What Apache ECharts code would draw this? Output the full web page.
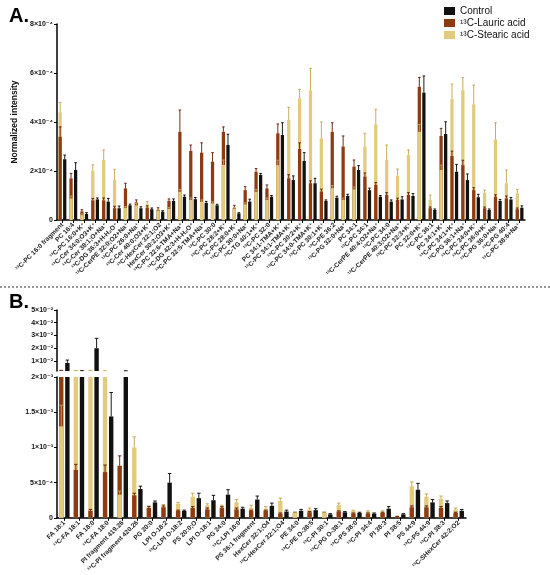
<!DOCTYPE html>
<html><head><meta charset="utf-8">
<script src="https://cdn.jsdelivr.net/npm/echarts@6/dist/echarts.min.js"></script>
<style>html,body{margin:0;padding:0;background:#fff}#c{width:550px;height:575px}</style>
</head><body><div id="c"></div>
<script>
const FONT = '"Liberation Sans", "DejaVu Sans", Arial, sans-serif';

// ---- Panel A (values in units of 10^-4) ----
const topCategories = ['¹³C-PC 16:0 fragment','PC 16:4','¹³C-PC 16:0+K⁺','¹³C-Cer 34:0;O3+K⁺','¹³C-Cer 38:1;O+Na⁺','¹³C-DG 36:3+H-H₂O⁺','¹³C-CerPE 32:0;O2+Na⁺','¹³C-PC 26:0+Na⁺','¹³C-Cer 40:0;O3+K⁺','¹³C-HexCer 32:1;O2','HexCer 30:2;O3+K⁺','¹³C-PC 32:6-TMA+Na⁺','¹³C-DG 42:3+H-H₂O⁺','¹³C-PC 32:5-TMA+Na⁺','¹³C-PC 30:0','¹³C-PC 28:2+K⁺','¹³C-PC 28:0+K⁺','¹³C-PC 30:0+Na⁺','¹³C-TG 40:1+K⁺','¹³C-PC 32:0','PC 34:1-TMA+K⁺','¹³C-PC 34:1-TMA+K⁺','¹³C-PC 30:2+K⁺','¹³C-PC 34:0-TMA+K⁺','¹³C-PC 30:1+K⁺','¹³C-PE 36:2','¹³C-PG 32:0+Na⁺','PC 34:1','¹³C-PC 34:1','¹³C-CerPE 40:4;O2+Na⁺','¹³C-PC 34:0','¹³C-CerPE 40:3;O2+Na⁺','¹³C-PC 32:3+K⁺','PC 32:0+K⁺','¹³C-PC 36:1','PC 34:1+K⁺','¹³C-PC 34:1+K⁺','¹³C-PG 36:1+Na⁺','¹³C-PC 34:0+K⁺','¹³C-PC 36:0+K⁺','¹³C-PG 36:0+Na⁺','¹³C-PG 40:4','¹³C-PC 38:6+Na⁺'];
const topControl    = [2.48,2.04,0.25,0.84,0.75,0.48,0.60,0.48,0.44,0.34,0.78,0.95,0.85,0.70,0.60,3.06,0.27,0.75,1.84,0.95,3.47,1.63,2.41,1.50,0.78,0.91,0.98,2.04,1.22,0.95,0.75,0.84,0.98,5.20,0.41,3.51,1.97,1.63,0.93,0.41,0.78,0.84,0.50];
const topControlErr = [0.17,0.30,0.05,0.06,0.13,0.09,0.05,0.06,0.05,0.04,0.08,0.07,0.07,0.06,0.04,0.44,0.03,0.10,0.06,0.05,0.50,0.17,0.34,0.20,0.04,0.06,0.07,0.18,0.08,0.05,0.07,0.11,0.10,0.68,0.04,0.50,0.30,0.25,0.12,0.04,0.06,0.08,0.08];
const topLauric     = [3.40,1.70,0.35,0.80,0.80,0.48,1.29,0.72,0.50,0.41,0.78,3.60,2.82,2.75,2.38,3.60,0.48,1.22,1.97,1.29,3.54,1.70,2.90,1.50,1.16,3.60,3.00,2.18,1.77,1.43,1.02,0.82,1.02,5.44,0.48,3.43,2.61,2.24,1.22,0.48,0.95,0.88,0.44];
const topLauricErr  = [0.40,0.20,0.07,0.08,0.10,0.08,0.21,0.10,0.08,0.09,0.08,0.89,0.24,0.40,0.37,0.20,0.12,0.14,0.13,0.14,0.38,0.15,0.25,0.10,0.10,0.37,0.43,0.27,0.15,0.10,0.10,0.07,0.10,0.38,0.05,0.31,0.20,0.20,0.10,0.05,0.08,0.10,0.05];
const topStearic    = [4.40,0.88,0.20,2.00,2.45,1.63,0.50,0.60,0.64,0.38,0.45,1.15,0.82,0.75,0.68,2.25,0.45,0.64,1.15,0.82,2.24,4.08,4.97,5.30,3.33,1.30,0.82,1.25,3.00,3.90,2.45,1.81,2.65,3.60,0.82,2.04,4.93,5.30,4.72,1.12,3.29,1.50,1.09];
const topStearicErr = [0.40,0.10,0.05,0.25,0.41,0.44,0.05,0.08,0.11,0.06,0.06,0.10,0.08,0.07,0.06,0.20,0.06,0.06,0.10,0.08,0.20,0.52,0.36,0.89,0.67,0.10,0.07,0.10,0.54,0.62,0.61,0.27,0.21,0.30,0.20,0.20,0.62,0.52,0.79,0.10,0.68,0.54,0.16];
const topTicks = [0,2,4,6,8];

// ---- Panel B (values in units of 10^-3) ----
const bottomCategories = ['FA 18:1','¹³C-FA 18:1','FA 18:0','¹³C-FA 18:0','PI fragment 419.26','¹³C-PI fragment 420.26','PG 20:0','LPI O-18:2','¹³C-LPI O-18:2','PS 20:0;O','LPI O-18:1','PG 24:0','¹³C-LPI 18:0','PS 36:1 fragment','HexCer 32:1;O4','¹³C-HexCer 32:1;O4','PE 34:0','¹³C-PE O-38:5','¹³C-PI 30:1','¹³C-PG O-38:1','¹³C-PS 38:0','¹³C-PI 34:4','PI 38:3','PI 38:5','PS 44:9','¹³C-PS 44:9','¹³C-PI 38:3','¹³C-SHexCer 42:2;O2'];
const bottomControl    = [8.3,2.2,19.9,1.44,2.1,0.41,0.22,0.50,0.10,0.28,0.25,0.33,0.13,0.26,0.17,0.09,0.10,0.11,0.05,0.08,0.07,0.06,0.13,0.05,0.40,0.22,0.21,0.10];
const bottomControlErr = [2.3,0.1,7.8,0.34,0.1,0.04,0.02,0.13,0.01,0.07,0.07,0.07,0.02,0.05,0.04,0.02,0.02,0.02,0.01,0.01,0.01,0.01,0.03,0.01,0.09,0.04,0.03,0.02];
const bottomLauric     = [2.4,0.68,0.10,0.65,0.74,0.32,0.14,0.15,0.10,0.14,0.12,0.14,0.12,0.10,0.10,0.06,0.07,0.08,0.07,0.09,0.06,0.06,0.07,0.015,0.15,0.15,0.14,0.07];
const bottomLauricErr  = [0.1,0.08,0.02,0.10,0.14,0.03,0.02,0.02,0.01,0.02,0.02,0.02,0.02,0.01,0.01,0.01,0.01,0.01,0.01,0.01,0.01,0.01,0.01,0.005,0.02,0.02,0.02,0.01];
const bottomStearic    = [1.3,2.3,2.4,2.1,0.33,1.0,0.15,0.17,0.20,0.30,0.18,0.16,0.22,0.14,0.13,0.24,0.07,0.12,0.07,0.18,0.10,0.09,0.09,0.02,0.45,0.30,0.27,0.12];
const bottomStearicErr = [0.3,0.1,0.1,0.1,0.05,0.15,0.02,0.02,0.02,0.05,0.02,0.02,0.04,0.04,0.03,0.04,0.01,0.02,0.01,0.03,0.01,0.01,0.01,0.005,0.06,0.04,0.04,0.02];
const bottomLowTicks = [0,0.5,1,1.5,2];
const bottomHighTicks = [10,20,30,40,50];

const NAMES = ['Control','¹³C-Lauric acid','¹³C-Stearic acid'];
const FILL = ['#111111','#8e3b14','#e2cb7d'];
const ERRC = ['#000000','#5c1a06','#c2a44a'];

function makeRender(slot, fill, errFill, zFn) {
  return function (params, api) {
    const i = api.value(0), v = api.value(1), e = api.value(2);
    const cs = params.coordSys;
    const band = api.size([1, 0])[0];
    const w = band * 0.3;
    const p = api.coord([i, v]);
    const p0 = api.coord([i, 0]);
    const pe = api.coord([i, v + e]);
    const cx = p[0] + slot * band;
    const top = cs.y, bot = cs.y + cs.height;
    const clamp = y => Math.min(Math.max(y, top), bot);
    const y1 = clamp(p[1]), y0 = clamp(p0[1]), ye = clamp(pe[1]);
    const z = zFn(i);
    const children = [];
    if (y0 - y1 > 0.01) children.push({type: 'rect', z2: z, shape: {x: cx - w / 2, y: y1, width: w, height: y0 - y1}, style: {fill: fill}});
    if (y1 - ye > 0.01) {
      children.push({type: 'line', z2: z + 1, shape: {x1: cx, y1: y1, x2: cx, y2: ye}, style: {stroke: errFill, lineWidth: 0.9}});
      if (pe[1] >= top) children.push({type: 'line', z2: z + 1, shape: {x1: cx - w * 0.4, y1: ye, x2: cx + w * 0.4, y2: ye}, style: {stroke: errFill, lineWidth: 0.9}});
    }
    return {type: 'group', children: children};
  };
}

function panelSeries(axisIdx, ctrl, ctrlE, lau, lauE, ste, steE) {
  const mk = (k, vals, errs, slot, zFn) => ({
    name: NAMES[k], type: 'custom', xAxisIndex: axisIdx, yAxisIndex: axisIdx,
    itemStyle: {color: FILL[k]},
    renderItem: makeRender(slot, FILL[k], ERRC[k], zFn),
    encode: {x: 0, y: 1},
    data: vals.map((v, i) => [i, v, errs[i]])
  });
  return [
    mk(2, ste, steE, -0.21, i => (ste[i] <= lau[i] ? 20 : 10)),
    mk(1, lau, lauE, -0.21, () => 15),
    mk(0, ctrl, ctrlE, 0.21, () => 15)
  ];
}

const axLine = {show: true, lineStyle: {color: '#000', width: 1.5}};
const axTick = {show: true, length: 3, lineStyle: {color: '#000', width: 1}};
const yLab = {fontSize: 7, fontWeight: 'bold', color: '#111', fontFamily: FONT, margin: 4};
const xLab = (fs) => ({interval: 0, rotate: 45, fontSize: fs, fontWeight: 'bold', color: '#222', fontFamily: FONT, margin: 4});

const fmtTop = v => v === 0 ? '0' : v + '×10⁻⁴';
const fmtLow = v => v === 0 ? '0' : (v < 1 ? Math.round(v * 10) + '×10⁻⁴' : v + '×10⁻³');
const fmtHigh = v => Math.round(v / 10) + '×10⁻²';

const option = {
  animation: false,
  textStyle: {fontFamily: FONT},
  legend: {
    data: NAMES, orient: 'vertical', left: 439, top: 1, icon: 'rect',
    itemWidth: 11, itemHeight: 8, itemGap: 2,
    textStyle: {fontSize: 10, color: '#111', fontFamily: FONT}
  },
  graphic: [
    {type: 'text', left: 9, top: 6, style: {text: 'A.', fontSize: 20, fontWeight: 'bold', fill: '#000', fontFamily: FONT}},
    {type: 'text', left: 9, top: 292, style: {text: 'B.', fontSize: 20, fontWeight: 'bold', fill: '#000', fontFamily: FONT}},
    {type: 'line', shape: {x1: 0, y1: 287, x2: 550, y2: 287}, style: {stroke: '#333', lineWidth: 1, lineDash: [2, 2]}}
  ],
  grid: [
    {left: 57, top: 24, width: 468, height: 196},
    {left: 57, top: 310, width: 409, height: 61},
    {left: 57, top: 377, width: 409, height: 142}
  ],
  xAxis: [
    {gridIndex: 0, type: 'category', data: topCategories, axisLine: axLine, axisTick: Object.assign({alignWithLabel: true, interval: 0}, axTick), axisLabel: xLab(6.5)},
    {gridIndex: 1, type: 'category', data: bottomCategories, show: false},
    {gridIndex: 2, type: 'category', data: bottomCategories, axisLine: axLine, axisTick: Object.assign({alignWithLabel: true, interval: 0}, axTick), axisLabel: xLab(6.5)}
  ],
  yAxis: [
    {gridIndex: 0, type: 'value', min: topTicks[0], max: topTicks[topTicks.length - 1], interval: 2,
     name: 'Normalized intensity', nameLocation: 'middle', nameGap: 28,
     nameTextStyle: {fontSize: 8.5, fontWeight: 'bold', color: '#111', fontFamily: FONT},
     axisLine: axLine, axisTick: axTick, splitLine: {show: false}, axisLabel: Object.assign({formatter: fmtTop}, yLab)},
    {gridIndex: 1, type: 'value', min: 2, max: 50,
     axisLine: axLine, axisTick: Object.assign({customValues: bottomHighTicks}, axTick), splitLine: {show: false},
     axisLabel: Object.assign({formatter: fmtHigh, customValues: bottomHighTicks}, yLab)},
    {gridIndex: 2, type: 'value', min: bottomLowTicks[0], max: bottomLowTicks[bottomLowTicks.length - 1], interval: 0.5,
     axisLine: axLine, axisTick: axTick, splitLine: {show: false}, axisLabel: Object.assign({formatter: fmtLow}, yLab)}
  ],
  series: [].concat(
    panelSeries(0, topControl, topControlErr, topLauric, topLauricErr, topStearic, topStearicErr),
    panelSeries(1, bottomControl, bottomControlErr, bottomLauric, bottomLauricErr, bottomStearic, bottomStearicErr),
    panelSeries(2, bottomControl, bottomControlErr, bottomLauric, bottomLauricErr, bottomStearic, bottomStearicErr)
  )
};

const chart = echarts.init(document.getElementById('c'), null, {renderer: 'canvas'});
chart.setOption(option);
</script>
</body></html>
